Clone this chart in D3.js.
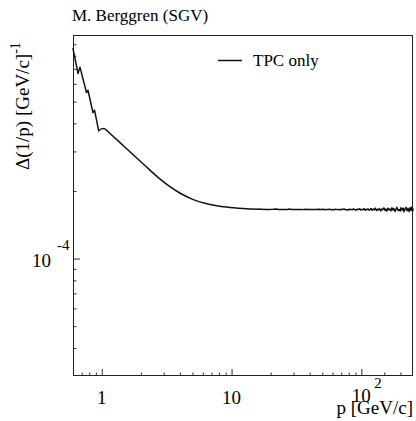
<!DOCTYPE html>
<html>
<head>
<meta charset="utf-8">
<title></title>
<script src="https://d3js.org/d3.v7.min.js"></script>
<style>
  body { margin: 0; background: #fff; }
  text { font-family: "Liberation Serif", "Times New Roman", "DejaVu Serif", serif; fill: #000; }
</style>
</head>
<body>
<div id="my_dataviz"></div>
<script>
// momentum [GeV/c] and resolution
// low momentum, saw-tooth part
var pJag = [0.6, 0.656, 0.679, 0.762, 0.783, 0.855, 0.879, 0.946];
var resJag = [8.61e-4, 6.67e-4, 7.12e-4, 5.48e-4, 5.62e-4, 4.47e-4, 4.58e-4, 3.71e-4];

// smooth part
var pSmooth = [0.946, 0.99, 1.04, 1.096, 1.192, 1.381, 1.60, 2.151, 2.725, 3.35, 3.99, 5.07, 6.80, 9.15, 12.3, 16.5];
var resSmooth = [3.71e-4, 3.78e-4, 3.796e-4, 3.715e-4, 3.551e-4, 3.284e-4, 3.038e-4, 2.597e-4, 2.294e-4, 2.092e-4,
                 1.959e-4, 1.831e-4, 1.743e-4, 1.697e-4, 1.671e-4, 1.657e-4];

// high momentum tail, where the curve gets noisy
var pTail = [16.5, 19, 21, 22, 23, 25, 27, 28, 29, 31, 33, 35, 36, 37, 39, 41, 43, 45, 47, 49,
             51, 52.5, 54, 55.5, 57, 58.5, 60, 62, 63.5, 65, 67, 68.5, 70, 72, 73.5, 75, 77, 79, 81, 83,
             85, 87, 89, 91, 93, 95, 97, 99, 101, 103, 105, 107, 109, 111, 113, 115, 117, 119, 121, 124,
             126, 128, 131, 133, 136, 138, 141, 144, 146, 149, 152, 154, 157, 160, 163, 166, 169, 172, 175, 178,
             182, 185, 188, 192, 195, 199, 202, 206, 210, 213, 217, 221, 225, 229, 233, 237, 241, 245, 248, 250];
var resTail = [1.657e-4, 1.656e-4, 1.657e-4, 1.662e-4, 1.656e-4, 1.655e-4, 1.656e-4, 1.661e-4, 1.655e-4, 1.655e-4,
               1.654e-4, 1.656e-4, 1.652e-4, 1.658e-4, 1.655e-4, 1.654e-4, 1.656e-4, 1.653e-4, 1.657e-4, 1.654e-4,
               1.658e-4, 1.650e-4, 1.656e-4, 1.653e-4, 1.660e-4, 1.651e-4, 1.655e-4, 1.649e-4, 1.661e-4, 1.652e-4,
               1.656e-4, 1.646e-4, 1.659e-4, 1.655e-4, 1.664e-4, 1.650e-4, 1.653e-4, 1.644e-4, 1.660e-4, 1.656e-4,
               1.649e-4, 1.665e-4, 1.652e-4, 1.641e-4, 1.660e-4, 1.654e-4, 1.667e-4, 1.645e-4, 1.657e-4, 1.650e-4,
               1.669e-4, 1.638e-4, 1.660e-4, 1.652e-4, 1.664e-4, 1.643e-4, 1.656e-4, 1.672e-4, 1.640e-4, 1.662e-4,
               1.650e-4, 1.676e-4, 1.637e-4, 1.658e-4, 1.646e-4, 1.670e-4, 1.631e-4, 1.664e-4, 1.652e-4, 1.681e-4,
               1.639e-4, 1.660e-4, 1.627e-4, 1.675e-4, 1.648e-4, 1.663e-4, 1.632e-4, 1.684e-4, 1.645e-4, 1.670e-4,
               1.622e-4, 1.662e-4, 1.690e-4, 1.638e-4, 1.655e-4, 1.628e-4, 1.686e-4, 1.644e-4, 1.676e-4, 1.617e-4,
               1.664e-4, 1.692e-4, 1.634e-4, 1.672e-4, 1.620e-4, 1.683e-4, 1.641e-4, 1.698e-4, 1.628e-4, 1.662e-4];

// ticks
var xMajor = [1, 10, 100];
var xMinor = [0.7, 0.8, 0.9, 2, 3, 4, 5, 6, 7, 8, 9, 20, 30, 40, 50, 60, 70, 80, 90, 150, 200];
var yMajor = [1e-4];
var yMinor = [4e-5, 5e-5, 6e-5, 7e-5, 8e-5, 9e-5, 2e-4, 3e-4, 4e-4, 5e-4, 6e-4, 7e-4, 8e-4, 9e-4];
var xLabels = [{v: 1, base: "1", exp: ""}, {v: 10, base: "10", exp: ""}, {v: 100, base: "10", exp: "2"}];

var W = 416, H = 421;
var mLeft = 73, mRight = 413, mTop = 35, mBottom = 376;

var svg = d3.select("#my_dataviz")
  .append("svg")
  .attr("width", W)
  .attr("height", H);

var x = d3.scaleLog().domain([0.6, 250]).range([mLeft, mRight]);
var y = d3.scaleLog().domain([3e-5, 9.9e-4]).range([mBottom, mTop]);

// axes: ticks only, pointing inwards
function tickAxis(axis, vals, len) {
  return axis.tickValues(vals).tickSizeInner(-len).tickSizeOuter(0).tickFormat("");
}
var gx = svg.append("g").attr("transform", "translate(0," + mBottom + ")");
gx.append("g").call(tickAxis(d3.axisBottom(x), xMajor, 7));
gx.append("g").call(tickAxis(d3.axisBottom(x), xMinor, 3.5));
var gy = svg.append("g").attr("transform", "translate(" + mLeft + ",0)");
gy.append("g").call(tickAxis(d3.axisLeft(y), yMajor, 7));
gy.append("g").call(tickAxis(d3.axisLeft(y), yMinor, 3.5));
svg.selectAll(".domain").remove();
svg.selectAll(".tick line").attr("stroke", "#333");

// frame
svg.append("rect")
  .attr("x", mLeft + 0.5).attr("y", mTop + 0.5)
  .attr("width", mRight - mLeft - 1).attr("height", mBottom - mTop - 1)
  .attr("fill", "none").attr("stroke", "#222").attr("stroke-width", 1);

// curve, drawn in three pieces
function pairs(ps, vs) { return ps.map(function(p, i) { return [p, vs[i]]; }); }
function drawPiece(d, curve) {
  var line = d3.line()
    .x(function(d) { return x(d[0]); })
    .y(function(d) { return y(d[1]); })
    .curve(curve);
  svg.append("path")
    .datum(d)
    .attr("d", line)
    .attr("fill", "none")
    .attr("stroke", "#111")
    .attr("stroke-width", 1.5)
    .attr("stroke-linejoin", "round")
    .attr("stroke-linecap", "round");
}
drawPiece(pairs(pJag, resJag), d3.curveLinear);
drawPiece(pairs(pSmooth, resSmooth), d3.curveMonotoneX);
drawPiece(pairs(pTail, resTail), d3.curveLinear);

// x tick labels
xLabels.forEach(function(l) {
  var base = l.exp ? 402 : 404;
  svg.append("text")
    .attr("x", x(l.v)).attr("y", base)
    .attr("text-anchor", "middle")
    .style("font-size", "19px")
    .text(l.base);
  if (l.exp) {
    svg.append("text")
      .attr("x", x(l.v) + 13).attr("y", base - 14)
      .style("font-size", "15px")
      .text(l.exp);
  }
});

// y tick label 10^-4
svg.append("text")
  .attr("x", 51).attr("y", y(1e-4) + 8)
  .attr("text-anchor", "end")
  .style("font-size", "19px")
  .text("10");
svg.append("text")
  .attr("x", 57).attr("y", y(1e-4) - 9)
  .style("font-size", "15px")
  .text("-4");

// axis titles
svg.append("text")
  .attr("x", mRight).attr("y", 414)
  .attr("text-anchor", "end")
  .style("font-size", "19px")
  .text("p [GeV/c]");

var yt = svg.append("text")
  .attr("transform", "translate(29,170) rotate(-90)")
  .style("font-size", "19px");
yt.append("tspan").text("\u0394(1/p) [GeV/c]");
yt.append("tspan").attr("dy", -9).style("font-size", "14px").text("-1");

// title
svg.append("text")
  .attr("x", 72).attr("y", 21)
  .style("font-size", "17px")
  .text("M. Berggren (SGV)");

// legend
svg.append("line")
  .attr("x1", 218).attr("x2", 242)
  .attr("y1", 60.5).attr("y2", 60.5)
  .attr("stroke", "#111").attr("stroke-width", 1.5);
svg.append("text")
  .attr("x", 253).attr("y", 66)
  .style("font-size", "17px")
  .text("TPC only");
</script>
</body>
</html>
